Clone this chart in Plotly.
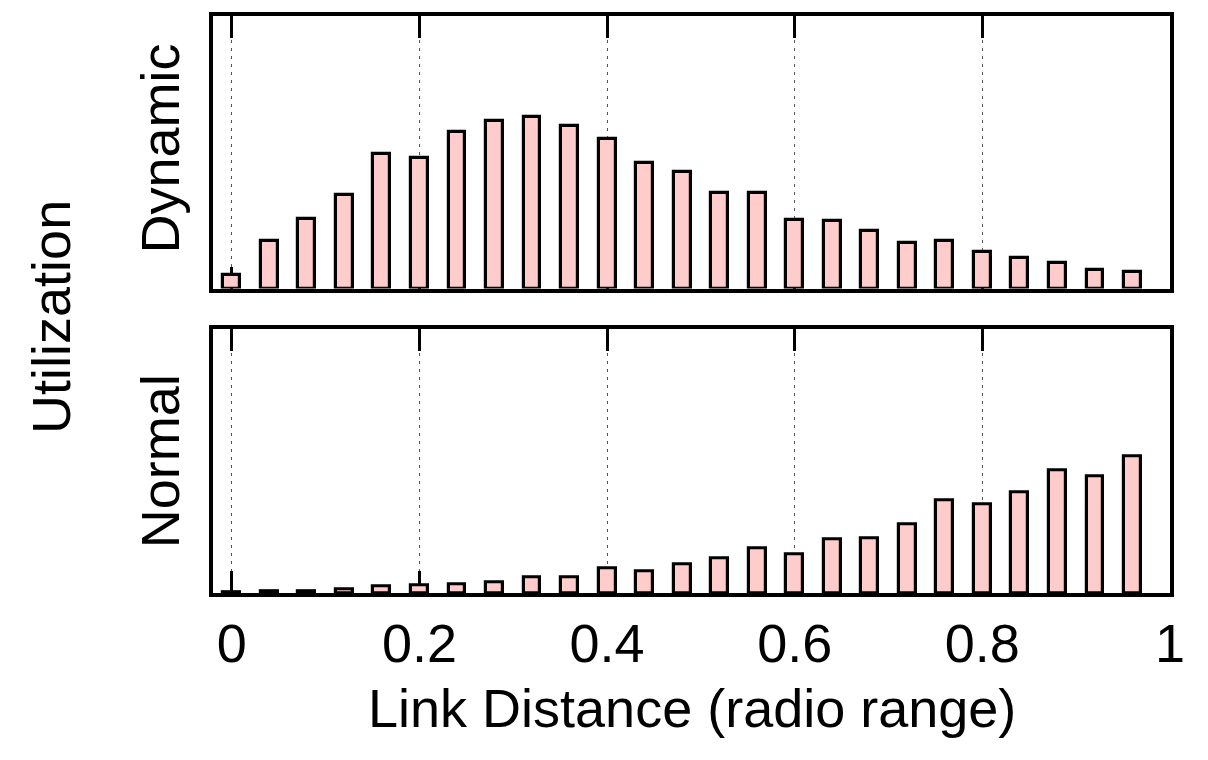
import plotly.graph_objects as go

# Data
link_distance = [0.00, 0.04, 0.08, 0.12, 0.16, 0.20, 0.24, 0.28, 0.32, 0.36,
                 0.40, 0.44, 0.48, 0.52, 0.56, 0.60, 0.64, 0.68, 0.72, 0.76,
                 0.80, 0.84, 0.88, 0.92, 0.96]
dynamic_util = [0.050, 0.175, 0.254, 0.345, 0.495, 0.478, 0.574, 0.613, 0.631, 0.595,
                0.547, 0.460, 0.428, 0.350, 0.350, 0.251, 0.249, 0.210, 0.168, 0.173,
                0.134, 0.114, 0.095, 0.068, 0.061]
normal_util = [0.002, 0.006, 0.006, 0.013, 0.026, 0.029, 0.032, 0.042, 0.061, 0.061,
               0.095, 0.081, 0.109, 0.131, 0.170, 0.146, 0.203, 0.207, 0.260, 0.350,
               0.338, 0.381, 0.464, 0.444, 0.519]
tick_vals = [0, 0.2, 0.4, 0.6, 0.8, 1.0]
tick_text = ["0", "0.2", "0.4", "0.6", "0.8", "1"]

FONT = "Liberation Sans, Arial, Helvetica, sans-serif"
FS = 54
BAR_FILL = "#ffcccc"

fig = go.Figure()
fig.add_trace(go.Bar(x=link_distance, y=dynamic_util, xaxis="x2", yaxis="y2",
                     width=0.0180, marker=dict(color=BAR_FILL, line=dict(color="black", width=3.2)),
                     showlegend=False))
fig.add_trace(go.Bar(x=link_distance, y=normal_util, xaxis="x", yaxis="y",
                     width=0.0180, marker=dict(color=BAR_FILL, line=dict(color="black", width=3.2)),
                     showlegend=False))

xcommon = dict(range=[-0.020, 1.0], tickvals=tick_vals, ticktext=tick_text,
               ticks="inside", ticklen=22, tickwidth=2.5, tickcolor="black",
               showline=True, linecolor="black", linewidth=3.5, mirror="ticks",
               showgrid=True, gridcolor="#555555", gridwidth=1.2, griddash="3px,5px",
               zeroline=False, layer="below traces",
               tickfont=dict(family=FONT, size=FS, color="black"))
ycommon = dict(range=[0, 1], showticklabels=False, ticks="", showgrid=False,
               zeroline=False, showline=True, linecolor="black", linewidth=3.5,
               mirror=True, layer="below traces")

fig.update_layout(
    width=1208, height=760,
    margin=dict(l=212.7, r=38, t=13, b=167),
    paper_bgcolor="white", plot_bgcolor="white",
    bargap=0,
    xaxis=dict(**xcommon, anchor="y", ticklabelstandoff=0),
    xaxis2=dict(**xcommon, anchor="y2", matches="x", showticklabels=False),
    yaxis=dict(**ycommon, domain=[0, 0.4569], anchor="x"),
    yaxis2=dict(**ycommon, domain=[0.5276, 1.0], anchor="x2"),
    font=dict(family=FONT, size=FS, color="black"),
    annotations=[
        dict(text="Link Distance (radio range)", xref="paper", yref="paper",
             x=0.5, y=-0.200, xanchor="center", yanchor="middle", showarrow=False,
             font=dict(family=FONT, size=FS, color="black")),
        dict(text="Utilization", xref="paper", yref="paper",
             x=-0.170, y=0.479, xanchor="center", yanchor="middle", showarrow=False,
             textangle=-90, font=dict(family=FONT, size=FS, color="black")),
        dict(text="Dynamic", xref="paper", yref="paper",
             x=-0.055, y=0.771, xanchor="center", yanchor="middle", showarrow=False,
             textangle=-90, font=dict(family=FONT, size=FS, color="black")),
        dict(text="Normal", xref="paper", yref="paper",
             x=-0.055, y=0.229, xanchor="center", yanchor="middle", showarrow=False,
             textangle=-90, font=dict(family=FONT, size=FS, color="black")),
    ],
)

fig.write_html("out.html")
